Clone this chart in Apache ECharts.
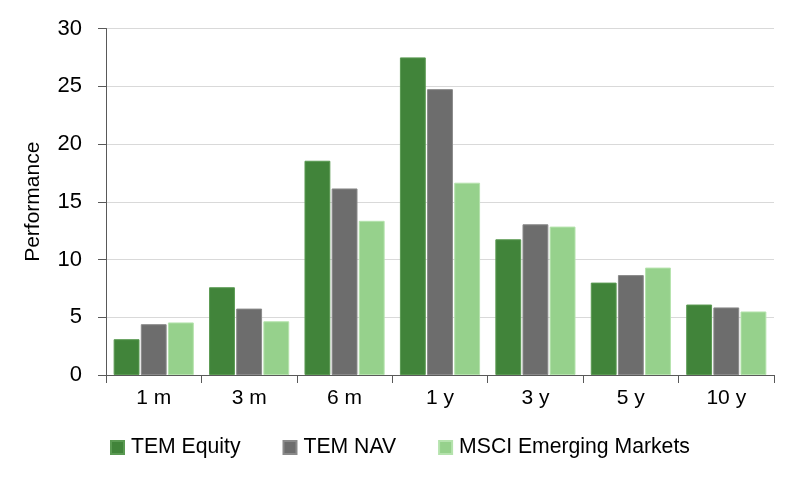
<!DOCTYPE html>
<html>
<head>
<meta charset="utf-8">
<script src="https://cdn.jsdelivr.net/npm/echarts@6/dist/echarts.min.js"></script>
<style>
  html, body { margin: 0; padding: 0; background: #fff; }
  #chart { width: 800px; height: 482px; }
</style>
</head>
<body>
<div id="chart"></div>
<script>
// periods on the x axis
const periods = ['1 m', '3 m', '6 m', '1 y', '3 y', '5 y', '10 y']
// performance (%) per series
const temEquity = [3.1, 7.6, 18.55, 27.5, 11.75, 8.0, 6.1]
const temNav = [4.4, 5.75, 16.15, 24.75, 13.05, 8.65, 5.85]
const msciEm = [4.55, 4.65, 13.35, 16.65, 12.85, 9.3, 5.5]
const yTicks = [0, 5, 10, 15, 20, 25, 30]

const font = "'Liberation Sans', Arial, sans-serif"

const myChart = echarts.init(document.getElementById('chart'))

function bar(name, data, color, border) {
  return {
    name: name,
    type: 'bar',
    data: data,
    barGap: '5%',
    barCategoryGap: '16%',
    animation: false,
    itemStyle: {
      color: color,
      borderColor: border,
      borderWidth: 1
    }
  }
}

myChart.setOption({
  textStyle: { fontFamily: font },
  legend: {
    left: 105,
    top: 432,
    itemWidth: 13,
    itemHeight: 13,
    itemGap: 42,
    icon: 'rect',
    textStyle: { fontFamily: font, fontSize: 21.2, color: '#000', padding: [0, 0, 0, 2] },
    data: ['TEM Equity', 'TEM NAV', 'MSCI Emerging Markets']
  },
  grid: {
    left: 106,
    right: 26,
    top: 28.5,
    bottom: 107,
    containLabel: false
  },
  xAxis: {
    type: 'category',
    data: periods,
    axisLine: { lineStyle: { color: '#595959', width: 1 } },
    axisTick: { show: true, length: 8, lineStyle: { color: '#595959' } },
    axisLabel: { fontFamily: font, fontSize: 21, color: '#000', margin: 13 },
    splitLine: { show: false }
  },
  yAxis: {
    type: 'value',
    min: yTicks[0],
    max: yTicks[yTicks.length - 1],
    interval: 5,
    name: 'Performance',
    nameLocation: 'middle',
    nameGap: 62,
    nameTextStyle: { fontFamily: font, fontSize: 21, color: '#000' },
    axisLine: { show: true, lineStyle: { color: '#595959', width: 1 } },
    axisTick: { show: true, length: 8, lineStyle: { color: '#595959' } },
    axisLabel: { fontFamily: font, fontSize: 22, color: '#000', margin: 24 },
    splitLine: { show: true, lineStyle: { color: '#d9d9d9', width: 1 } }
  },
  series: [
    bar('TEM Equity', temEquity, '#41843a', '#5a9a52'),
    bar('TEM NAV', temNav, '#6d6d6d', '#8a8a8a'),
    bar('MSCI Emerging Markets', msciEm, '#96d18c', '#b5e3ad')
  ]
})
</script>
</body>
</html>
